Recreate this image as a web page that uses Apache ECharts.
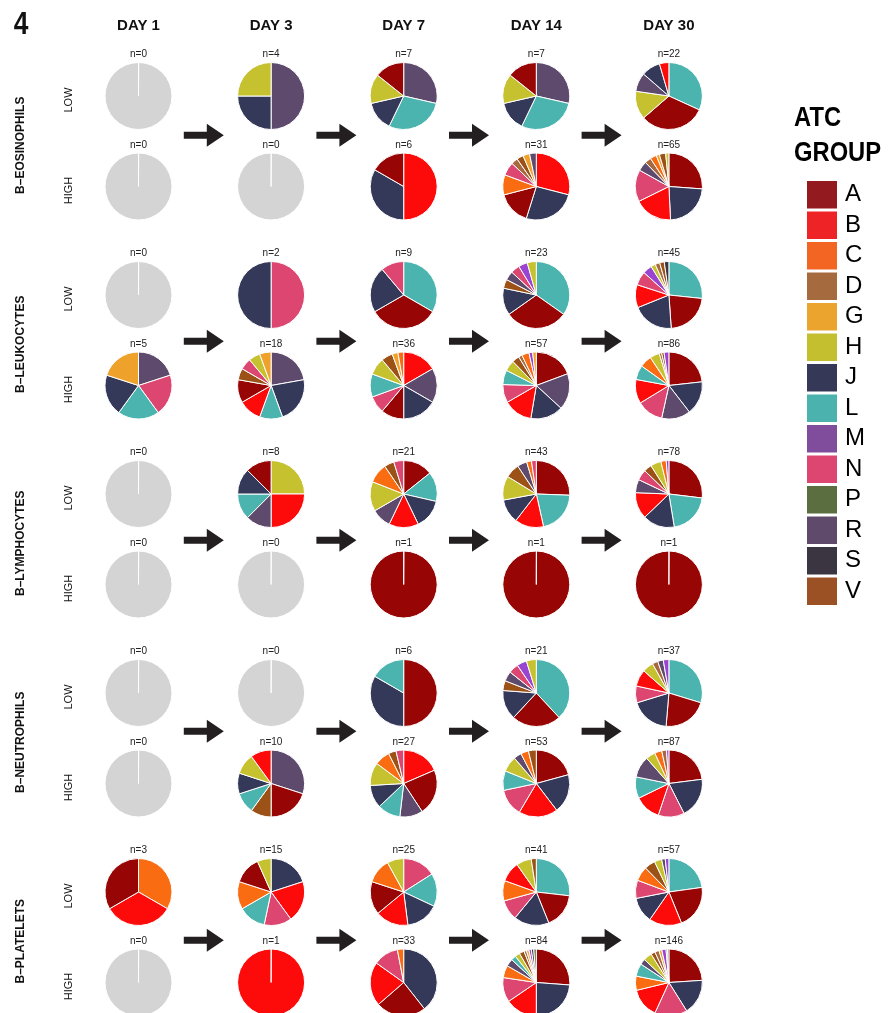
<!DOCTYPE html>
<html>
<head>
<meta charset="utf-8">
<title>ATC group composition by blood marker level</title>
<script src="https://cdn.jsdelivr.net/npm/echarts@6/dist/echarts.min.js"></script>
<style>
  html, body { margin: 0; padding: 0; background: #ffffff; }
  #chart { width: 888px; height: 1013px; }
</style>
</head>
<body>
<div id="chart"></div>
<script>
// ---- data -------------------------------------------------------------
const panelTag = '4';
const days = ['DAY 1', 'DAY 3', 'DAY 7', 'DAY 14', 'DAY 30'];
const cellTypes = ['B–EOSINOPHILS', 'B–LEUKOCYTES', 'B–LYMPHOCYTES', 'B–NEUTROPHILS', 'B–PLATELETS'];
const levels = ['LOW', 'HIGH'];
const atcGroups = ['A', 'B', 'C', 'D', 'G', 'H', 'J', 'L', 'M', 'N', 'P', 'R', 'S', 'V'];

// slice colours inside the pies
const sliceColors = ['#980505', '#fd0a0a', '#f96c12', '#a8693f', '#eea22c', '#c6c12f', '#343859',
                     '#4bb4af', '#9a45d2', '#dc4671', '#5a6e40', '#5e4a6c', '#3a3540', '#9c5116'];
// swatch colours in the key
const keyColors = ['#931a1e', '#ee2326', '#f26522', '#a66a3f', '#eba52f', '#c4bf2f', '#363857',
                   '#4bb2ae', '#804c9c', '#dc4670', '#5a6e40', '#5f4a6b', '#3a3540', '#9b5124'];

// patient counts per ATC group, one object per day (drawn clockwise in listed order)
const eosinophilsLow = [
  {},
  { R: 2, J: 1, H: 1 },
  { R: 2, L: 2, J: 1, H: 1, A: 1 },
  { R: 2, L: 2, J: 1, H: 1, A: 1 },
  { L: 7, A: 7, H: 3, R: 2, J: 2, B: 1 }
];
const eosinophilsHigh = [
  {},
  {},
  { B: 3, J: 2, A: 1 },
  { B: 9, J: 8, A: 5, C: 3, N: 2, D: 1, V: 1, G: 1, R: 1 },
  { A: 17, J: 15, B: 12, N: 10, R: 3, D: 2, C: 2, G: 1, V: 2, H: 1 }
];
const leukocytesLow = [
  {},
  { N: 1, J: 1 },
  { L: 3, A: 3, J: 2, N: 1 },
  { L: 8, A: 7, J: 3, V: 1, R: 1, N: 1, M: 1, H: 1 },
  { L: 12, A: 10, J: 9, B: 5, N: 3, M: 2, H: 1, D: 1, V: 1, S: 1 }
];
const leukocytesHigh = [
  { R: 1, N: 1, L: 1, J: 1, G: 1 },
  { R: 4, J: 4, L: 2, B: 2, A: 2, V: 1, N: 1, H: 1, G: 1 },
  { B: 6, R: 6, J: 6, A: 4, N: 3, L: 4, H: 3, V: 2, G: 1, C: 1 },
  { A: 11, R: 10, J: 9, B: 8, N: 5, L: 4, H: 3, V: 2, D: 1, C: 2, M: 1, G: 1 },
  { A: 20, J: 14, R: 12, N: 11, B: 10, L: 6, C: 5, H: 4, D: 1, V: 1, M: 2 }
];
const lymphocytesLow = [
  {},
  { H: 2, B: 2, R: 1, L: 1, J: 1, A: 1 },
  { A: 3, L: 3, J: 3, B: 3, R: 2, H: 3, C: 2, V: 1, N: 1 },
  { A: 11, L: 9, B: 6, J: 5, H: 5, V: 3, R: 2, C: 1, N: 1 },
  { A: 21, L: 16, J: 12, B: 10, R: 5, N: 4, V: 3, H: 4, C: 2, M: 1 }
];
const lymphocytesHigh = [
  {},
  {},
  { A: 1 },
  { A: 1 },
  { A: 1 }
];
const neutrophilsLow = [
  {},
  {},
  { A: 3, J: 2, L: 1 },
  { L: 8, A: 5, J: 3, V: 1, R: 1, N: 1, M: 1, H: 1 },
  { L: 11, A: 8, J: 7, N: 3, B: 3, H: 2, D: 1, R: 1, M: 1 }
];
const neutrophilsHigh = [
  {},
  { R: 3, A: 2, V: 1, L: 1, J: 1, H: 1, B: 1 },
  { B: 5, A: 6, R: 3, L: 3, J: 3, H: 3, C: 2, V: 1, N: 1 },
  { A: 11, J: 10, B: 10, N: 7, L: 5, H: 4, R: 2, C: 2, V: 2 },
  { A: 20, J: 17, N: 11, B: 11, L: 9, R: 9, H: 4, C: 3, D: 2, M: 1 }
];
const plateletsLow = [
  { C: 1, B: 1, A: 1 },
  { J: 3, B: 3, N: 2, L: 2, C: 2, A: 2, H: 1 },
  { N: 4, L: 4, J: 4, B: 4, A: 4, C: 3, H: 2 },
  { L: 11, A: 7, J: 7, N: 4, C: 4, B: 4, H: 3, V: 1 },
  { L: 13, A: 12, B: 9, J: 7, N: 5, C: 4, V: 3, H: 2, R: 1, M: 1 }
];
const plateletsHigh = [
  {},
  { B: 1 },
  { J: 13, A: 8, B: 7, N: 4, C: 1 },
  { A: 22, J: 20, B: 13, N: 10, C: 5, R: 3, L: 2, H: 2, V: 2, D: 1, G: 1, M: 1, S: 1, P: 1 },
  { A: 35, J: 25, N: 23, B: 21, C: 10, L: 9, R: 4, H: 6, V: 3, D: 3, G: 2, M: 3, P: 1, S: 1 }
];

const panels = [
  [eosinophilsLow, eosinophilsHigh],
  [leukocytesLow, leukocytesHigh],
  [lymphocytesLow, lymphocytesHigh],
  [neutrophilsLow, neutrophilsHigh],
  [plateletsLow, plateletsHigh]
];

// ---- layout -----------------------------------------------------------
const PIE_R = 33.5;
const COL_X0 = 138.5, COL_STEP = 132.6;
const ROW_Y0 = 96, GROUP_STEP = 199, LEVEL_STEP = 90.5;
const ARROW_SHIFT = [-6, 1, 1, -7, 3];   // vertical nudge of each panel's arrow row
const EMPTY_COLOR = '#d4d4d4';
const SANS = '"Liberation Sans", Arial, Helvetica, sans-serif';

const colX = d => COL_X0 + d * COL_STEP;
const rowY = (g, l) => ROW_Y0 + g * GROUP_STEP + l * LEVEL_STEP;
const colorOf = {};
atcGroups.forEach((g, i) => { colorOf[g] = sliceColors[i]; });

const series = [];
const graphics = [];

panels.forEach((pair, g) => {
  pair.forEach((byDay, l) => {
    byDay.forEach((counts, d) => {
      const entries = Object.entries(counts);
      const n = entries.reduce((s, [, v]) => s + v, 0);
      let data;
      if (n === 0) {
        data = [{ name: 'none', value: 1, itemStyle: { color: EMPTY_COLOR } }];
      } else {
        data = entries.map(([k, v]) => ({ name: k, value: v, itemStyle: { color: colorOf[k] } }));
      }
      // a hair-thin leading slice gives whole-circle pies the same white seam at 12 o'clock
      if (data.length === 1) {
        data.unshift({ name: 'seam', value: data[0].value * 0.001, itemStyle: { color: '#ffffff' } });
      }
      const cx = colX(d), cy = rowY(g, l);
      series.push({
        type: 'pie',
        center: [cx, cy],
        radius: PIE_R,
        startAngle: 90,
        clockwise: true,
        silent: true,
        animation: false,
        label: { show: false },
        labelLine: { show: false },
        emphasis: { disabled: true },
        itemStyle: { borderColor: '#ffffff', borderWidth: 1 },
        data
      });
      graphics.push({
        type: 'text', x: cx, y: cy - PIE_R - 8,
        style: { text: 'n=' + n, font: '10px ' + SANS, fill: '#222', align: 'center', verticalAlign: 'middle' }
      });
    });
    graphics.push({
      type: 'text', x: 69, y: rowY(g, l) + 4, rotation: Math.PI / 2,
      style: { text: levels[l], font: '11px ' + SANS, fill: '#111', align: 'center', verticalAlign: 'middle' }
    });
  });
  const midY = (rowY(g, 0) + rowY(g, 1)) / 2;
  graphics.push({
    type: 'text', x: 21, y: midY + 4, rotation: Math.PI / 2,
    style: { text: cellTypes[g], font: 'bold 12px ' + SANS, fill: '#111', align: 'center', verticalAlign: 'middle' }
  });
  // arrows between consecutive days
  for (let d = 0; d < days.length - 1; d++) {
    graphics.push({
      type: 'polygon',
      x: (colX(d) + colX(d + 1)) / 2 - 1,
      y: midY + ARROW_SHIFT[g],
      shape: { points: [[-20, -3.5], [3, -3.5], [3, -11.5], [20, 0], [3, 11.5], [3, 3.5], [-20, 3.5]] },
      style: { fill: '#231f20' },
      silent: true
    });
  }
});

days.forEach((label, d) => {
  graphics.push({
    type: 'text', x: colX(d), y: 26,
    style: { text: label, font: 'bold 15px ' + SANS, fill: '#111', align: 'center', verticalAlign: 'middle' }
  });
});
graphics.push({
  type: 'text', x: 21, y: 25, scaleX: 0.85,
  style: { text: panelTag, font: 'bold 31px ' + SANS, fill: '#111', align: 'center', verticalAlign: 'middle' }
});
graphics.push({
  type: 'text', x: 794, y: 101, scaleX: 0.88,
  style: { text: 'ATC\nGROUP', font: 'bold 27px ' + SANS, fill: '#000', lineHeight: 35, align: 'left', verticalAlign: 'top' }
});

const chart = echarts.init(document.getElementById('chart'), null, { renderer: 'canvas' });
chart.setOption({
  animation: false,
  backgroundColor: '#ffffff',
  legend: {
    orient: 'vertical',
    left: 807,
    top: 181,
    itemWidth: 30,
    itemHeight: 27.5,
    itemGap: 3,
    icon: 'rect',
    selectedMode: false,
    padding: 0,
    textStyle: { fontSize: 24, fontFamily: SANS, color: '#000', lineHeight: 27.5, padding: [0, 0, 0, 3] },
    data: atcGroups.map((g, i) => ({ name: g, itemStyle: { color: keyColors[i], borderWidth: 0 } }))
  },
  series,
  graphic: graphics
});
</script>
</body>
</html>
